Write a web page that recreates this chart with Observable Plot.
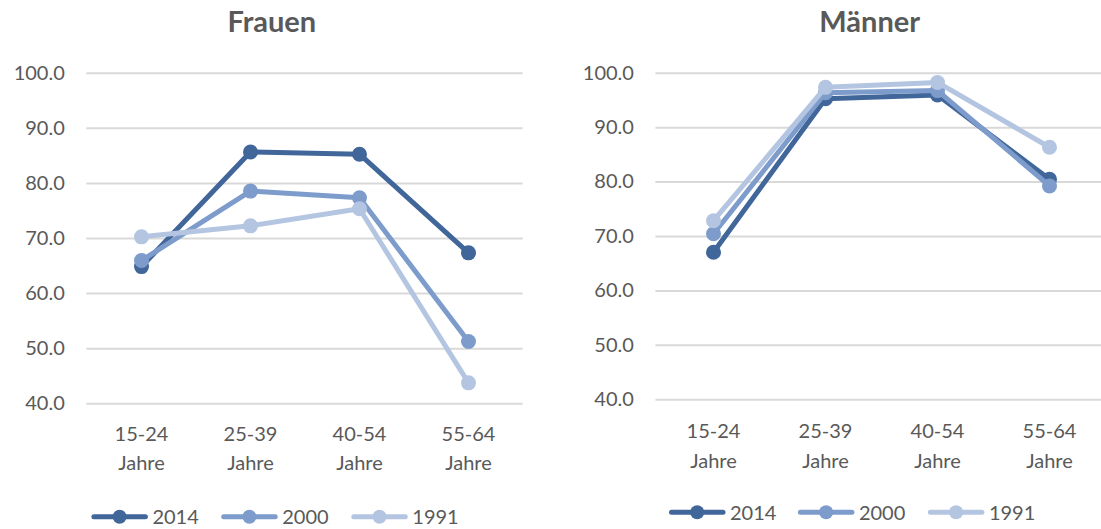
<!DOCTYPE html>
<html><head><meta charset="utf-8">
<script src="https://cdn.jsdelivr.net/npm/d3@7"></script>
<script src="https://cdn.jsdelivr.net/npm/@observablehq/plot@0.6"></script>
<style>
body{margin:0;background:#fff;}
#wrap{position:relative;width:1101px;height:529px;overflow:hidden;font-family:Lato,sans-serif;background:#fff;}
.panel{position:absolute;top:0;}
#overlay{position:absolute;left:0;top:0;pointer-events:none;}
</style></head>
<body><div id="wrap"></div>
<script>
const ageGroups = ["15-24", "25-39", "40-54", "55-64"];
const ageSuffix = "Jahre";
const years = ["2014", "2000", "1991"];
const colors = ["#41669A", "#7D9CCB", "#B4C5E1"];
const yTicks = [40, 50, 60, 70, 80, 90, 100];
const panelTitles = ["Frauen", "Männer"];

const frauen2014 = [64.9, 85.7, 85.3, 67.4];
const frauen2000 = [66.0, 78.6, 77.4, 51.3];
const frauen1991 = [70.3, 72.3, 75.4, 43.8];
const maenner2014 = [67.1, 95.3, 96.0, 80.5];
const maenner2000 = [70.5, 96.4, 96.8, 79.3];
const maenner1991 = [72.9, 97.4, 98.3, 86.4];

const frauen = [frauen2014, frauen2000, frauen1991];
const maenner = [maenner2014, maenner2000, maenner1991];

function rows(series) {
  return years.map((yr, i) => ageGroups.map((a, j) => ({year: yr, age: a, value: series[i][j]})));
}

function makePanel(series, opts) {
  const marks = [
    Plot.gridY({ticks: yTicks, stroke: "#D9D9D9", strokeOpacity: 1, strokeWidth: 2}),
    Plot.axisY({ticks: yTicks, tickFormat: d3.format(".1f"), tickSize: 0, tickPadding: opts.yPad, fontSize: 20}),
    Plot.axisX({tickSize: 0, tickPadding: opts.xPad, tickFormat: d => d + "\n" + ageSuffix, lineHeight: 1.47, fontSize: 20})
  ];
  rows(series).forEach((data, i) => {
    marks.push(Plot.line(data, {x: "age", y: "value", stroke: colors[i], strokeWidth: 5, strokeLinejoin: "round"}));
    marks.push(Plot.dot(data, {x: "age", y: "value", fill: colors[i], r: 7.5, stroke: "none"}));
  });
  const xScale = {type: "point", domain: ageGroups, label: null, padding: opts.xRange ? 0 : 0.5};
  if (opts.xRange) xScale.range = opts.xRange;
  const p = Plot.plot({
    width: opts.width, height: 529,
    marginLeft: opts.ml, marginRight: opts.mr, marginTop: opts.mt, marginBottom: opts.mb,
    x: xScale,
    y: {domain: [40, 100], label: null},
    style: {fontFamily: "Lato, sans-serif", fontSize: "20px", color: "#595959", background: "transparent"},
    marks
  });
  p.classList.add("panel");
  p.style.left = opts.left + "px";
  return p;
}

const wrap = document.getElementById("wrap");
wrap.appendChild(makePanel(frauen, {left: 0, width: 550, ml: 86.3, mr: 27.4, mt: 72.7, mb: 529 - 403.3, yPad: 22, xPad: 16.3}));
wrap.appendChild(makePanel(maenner, {left: 550, width: 551, ml: 105.4, mr: 0, mt: 72.7, mb: 529 - 399.3, yPad: 22, xPad: 17.7, xRange: [161.6, 500]}));

// titles and legends
const svg = d3.select(wrap).append("svg").attr("id", "overlay").attr("width", 1101).attr("height", 529)
  .style("font-family", "Lato, sans-serif");
const titleX = [271.8, 869.7];
panelTitles.forEach((t, i) => {
  svg.append("text").attr("x", titleX[i]).attr("y", 32).attr("text-anchor", "middle")
    .attr("font-size", 29).attr("font-weight", "bold").attr("fill", "#595959").text(t);
});
const legends = [
  {y: 516.7, x: [91.9, 221.7, 351.8]},
  {y: 512.3, x: [669.5, 798.4, 928.4]}
];
legends.forEach(L => {
  years.forEach((yr, i) => {
    const x0 = L.x[i];
    const g = svg.append("g");
    g.append("line").attr("x1", x0 + 2).attr("x2", x0 + 53.5).attr("y1", L.y).attr("y2", L.y)
      .attr("stroke", colors[i]).attr("stroke-width", 5).attr("stroke-linecap", "round");
    g.append("circle").attr("cx", x0 + 27.7).attr("cy", L.y).attr("r", 7).attr("fill", colors[i]);
    g.append("text").attr("x", x0 + 60.5).attr("y", L.y + 7.3).attr("font-size", 20).attr("fill", "#595959").text(yr);
  });
});
</script></body></html>
